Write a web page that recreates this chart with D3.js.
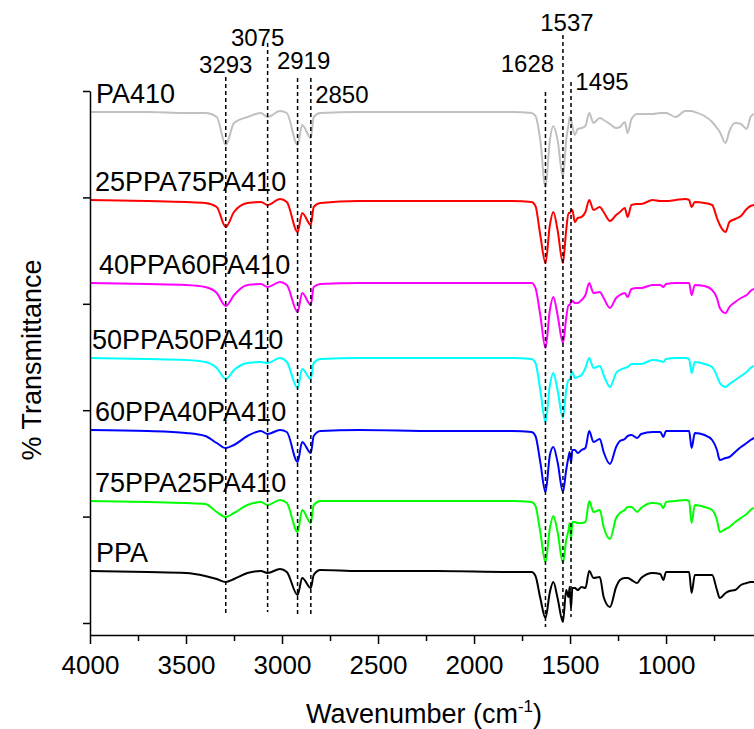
<!DOCTYPE html>
<html>
<head>
<meta charset="utf-8">
<script src="https://cdn.jsdelivr.net/npm/d3@7"></script>
<style>
  body { margin: 0; background: #fff; }
  text { font-family: Arial, "Liberation Sans", sans-serif; fill: #000; }
</style>
</head>
<body>
<svg id="main"></svg>
<script>
// wavenumber grid (cm-1), shared by all spectra
var wavenumbers = [
  4000, 3700, 3500, 3400, 3340, 3293, 3250, 3180, 3110, 3075,
  3010, 2975, 2919, 2895, 2850, 2835, 2800, 2600, 2200, 1800,
  1700, 1680, 1655, 1628, 1605, 1587, 1565, 1537, 1520, 1508,
  1502, 1495, 1488, 1475, 1460, 1440, 1420, 1400, 1378, 1345,
  1325, 1292, 1260, 1240, 1215, 1200, 1180, 1150, 1130, 1070,
  1030, 1014, 1000, 950, 900, 880, 867, 850, 800, 760,
  735, 720, 690, 670, 640, 610, 580, 560, 542
];

// stacked transmittance (offset, arbitrary units)
var pa410 = [
  51.1, 51.1, 51.0, 51.0, 50.6, 47.8, 50.0, 50.6, 51.0, 50.6,
  51.2, 51.0, 47.8, 49.8, 48.5, 50.6, 51.0, 51.1, 51.1, 51.1,
  51.0, 50.7, 48.3, 43.6, 48.3, 49.7, 48.3, 44.6, 48.3, 49.8,
  50.6, 50.4, 49.7, 48.8, 49.4, 49.5, 49.7, 51.0, 50.0, 50.5,
  50.3, 49.9, 49.5, 49.6, 50.1, 49.0, 50.4, 50.9, 50.9, 50.9,
  51.0, 51.0, 51.0, 50.6, 51.2, 51.2, 51.2, 51.1, 50.7, 50.1,
  49.5, 49.1, 48.0, 49.2, 50.0, 49.9, 49.4, 50.6, 50.9
];
var ppa25 = [
  42.3, 42.2, 42.1, 42.0, 41.6, 39.6, 41.1, 42.0, 42.1, 41.8,
  42.4, 42.1, 39.1, 41.0, 39.8, 41.6, 42.0, 42.2, 42.2, 42.2,
  42.1, 41.7, 38.8, 36.0, 39.8, 41.1, 39.3, 36.0, 39.3, 41.0,
  41.0, 41.2, 41.3, 40.1, 40.5, 40.6, 41.1, 42.3, 41.3, 41.6,
  41.1, 40.2, 40.8, 41.1, 41.5, 40.6, 41.8, 41.9, 41.9, 42.3,
  42.2, 42.2, 42.2, 42.3, 42.4, 42.3, 41.6, 42.1, 42.0, 41.8,
  40.5, 39.8, 39.1, 40.1, 40.4, 40.7, 41.4, 41.7, 41.8
];
var ppa40 = [
  34.0, 33.9, 33.8, 33.6, 33.0, 31.7, 32.8, 33.8, 33.9, 33.6,
  34.1, 33.8, 31.1, 33.0, 31.8, 33.6, 33.9, 34.0, 34.0, 34.0,
  34.0, 33.5, 30.8, 27.5, 31.3, 32.6, 30.8, 28.0, 30.5, 31.8,
  31.8, 32.1, 32.2, 32.0, 32.0, 32.3, 32.8, 34.0, 33.0, 33.1,
  32.5, 31.5, 32.5, 32.8, 33.0, 32.6, 33.4, 33.5, 33.5, 33.8,
  33.8, 33.6, 33.9, 34.0, 34.0, 34.0, 32.8, 33.8, 33.7, 33.3,
  32.5, 31.5, 31.0, 31.6, 32.1, 32.5, 32.8, 33.2, 33.4
];
var ppa50 = [
  26.5, 26.4, 26.3, 26.1, 25.5, 24.4, 25.3, 26.0, 26.1, 26.0,
  26.5, 26.1, 23.5, 25.4, 24.4, 26.0, 26.4, 26.5, 26.5, 26.5,
  26.4, 26.0, 23.3, 20.1, 23.8, 25.0, 23.3, 20.5, 23.3, 24.3,
  24.3, 24.8, 25.1, 24.5, 24.6, 24.8, 25.5, 26.5, 25.5, 25.7,
  24.8, 23.6, 25.0, 25.3, 25.5, 25.6, 25.9, 25.9, 25.9, 26.3,
  26.2, 26.1, 26.4, 26.5, 26.5, 26.4, 25.0, 26.1, 25.9, 25.6,
  24.7, 24.0, 23.6, 23.9, 24.3, 24.7, 25.1, 25.5, 25.7
];
var ppa60 = [
  19.3, 19.2, 19.0, 18.7, 18.0, 17.5, 17.8, 18.7, 19.2, 18.9,
  19.3, 19.1, 16.1, 18.1, 17.0, 18.7, 19.2, 19.3, 19.2, 19.2,
  19.1, 18.7, 16.1, 13.1, 16.8, 17.6, 16.1, 13.1, 15.3, 16.6,
  17.1, 16.0, 17.3, 17.3, 17.0, 17.3, 17.5, 19.2, 18.1, 18.4,
  17.1, 15.9, 17.6, 18.2, 18.4, 18.7, 18.8, 18.5, 18.9, 19.1,
  19.1, 18.6, 19.2, 19.2, 19.2, 19.2, 17.5, 19.0, 18.8, 18.3,
  17.3, 16.3, 16.5, 16.6, 17.1, 17.6, 18.0, 18.3, 18.5
];
var ppa75 = [
  12.2, 12.1, 12.0, 11.9, 11.1, 10.6, 11.0, 11.8, 12.1, 11.8,
  12.3, 12.0, 9.1, 11.3, 10.0, 11.8, 12.2, 12.2, 12.2, 12.2,
  12.1, 11.7, 9.1, 6.1, 9.5, 10.7, 9.1, 6.0, 8.3, 9.3,
  10.0, 8.3, 10.1, 10.1, 10.0, 10.0, 10.1, 12.2, 11.1, 11.3,
  9.6, 8.4, 10.5, 11.0, 11.3, 11.6, 11.6, 11.1, 11.5, 12.0,
  11.9, 11.5, 12.1, 12.2, 12.3, 12.2, 10.0, 11.8, 11.6, 11.3,
  10.3, 9.1, 9.4, 9.6, 10.1, 10.5, 10.9, 11.3, 11.5
];
var ppa = [
  5.2, 5.1, 5.0, 4.7, 4.4, 4.1, 4.4, 5.0, 5.2, 5.0,
  5.4, 5.1, 2.8, 4.5, 3.5, 4.8, 5.3, 5.2, 5.2, 5.1,
  5.1, 4.7, 2.5, 0.5, 3.1, 4.1, 2.5, 0.1, 3.3, 2.6,
  3.6, 1.5, 3.5, 3.5, 3.3, 3.6, 3.5, 5.2, 4.5, 4.6,
  2.6, 1.6, 3.6, 4.3, 4.5, 4.5, 4.3, 4.0, 4.5, 5.0,
  4.9, 4.3, 5.1, 5.1, 5.1, 5.1, 3.0, 4.8, 4.8, 4.8,
  3.3, 2.5, 3.0, 3.2, 3.3, 3.8, 4.0, 4.1, 4.1
];

var seriesNames = ["PA410", "25PPA75PA410", "40PPA60PA410", "50PPA50PA410", "60PPA40PA410", "75PPA25PA410", "PPA"];
var seriesValues = [pa410, ppa25, ppa40, ppa50, ppa60, ppa75, ppa];
var seriesColors = ["#c0c0c0", "#ff0000", "#ff00ff", "#00ffff", "#0000ff", "#00ff00", "#000000"];

// marked peaks and their dashed guide lines (top / bottom in y units)
var peaks = [3293, 3075, 2919, 2850, 1628, 1537, 1495];
var peakTop = [54.6, 58.0, 54.5, 54.5, 53.1, 58.8, 54.1];
var peakBottom = [1.0, 1.1, 0.9, 0.8, -0.4, 0.1, 0.6];
var peakLabelLevel = [55.0, 57.7, 55.4, 52.0, 55.1, 59.2, 53.3];

var xMajor = [4000, 3500, 3000, 2500, 2000, 1500, 1000];
var xMinor = [3750, 3250, 2750, 2250, 1750, 1250, 750];
var yTicks = [0, 10.64, 21.28, 31.92, 42.56, 53.2];

var w = 754;
var h = 729;
var padLeft = 90, padRight = 754, padTop = 91, padBottom = 635;

var svg = d3.select("#main")
  .attr("width", w)
  .attr("height", h);

var xScale = d3.scaleLinear()
  .domain([4000, 542])
  .range([padLeft, padRight]);

var yScale = d3.scaleLinear()
  .domain([-1.2, 53.2])
  .range([padBottom, padTop]);

var line = d3.line()
  .x(function(d, i) { return xScale(wavenumbers[i]); })
  .y(function(d) { return yScale(d); })
  .curve(d3.curveMonotoneX);

// spectra
seriesValues.forEach(function(vals, i) {
  svg.append("path")
    .datum(vals)
    .attr("d", line)
    .attr("fill", "none")
    .attr("stroke", seriesColors[i])
    .attr("stroke-width", 2)
    .attr("stroke-linejoin", "round");
});

// series labels, just above each baseline
var labelDx = [6, 5, 9, 2, 5, 5, 6];
seriesNames.forEach(function(name, i) {
  svg.append("text")
    .attr("x", padLeft + labelDx[i])
    .attr("y", yScale(seriesValues[i][0]) - 9)
    .style("font-size", "27px")
    .text(name);
});

// dashed peak lines
svg.selectAll(".peak")
  .data(peaks)
  .enter()
  .append("line")
  .attr("class", "peak")
  .attr("x1", function(d) { return xScale(d); })
  .attr("x2", function(d) { return xScale(d); })
  .attr("y1", function(d, i) { return yScale(peakTop[i]); })
  .attr("y2", function(d, i) { return yScale(peakBottom[i]); })
  .attr("stroke", "#000")
  .attr("stroke-width", 1.5)
  .attr("stroke-dasharray", "4,3");

var peakDx = [0, -10, 6, 31, -18, 4, 31];
svg.selectAll(".peaklabel")
  .data(peaks)
  .enter()
  .append("text")
  .attr("class", "peaklabel")
  .attr("x", function(d, i) { return xScale(d) + peakDx[i]; })
  .attr("y", function(d, i) { return yScale(peakLabelLevel[i]); })
  .attr("text-anchor", "middle")
  .style("font-size", "24px")
  .text(function(d) { return d; });

// axes
var xAxis = d3.axisBottom(xScale)
  .tickValues(xMajor)
  .tickFormat(d3.format("d"))
  .tickSize(9)
  .tickSizeOuter(0);

var gx = svg.append("g")
  .attr("transform", "translate(0," + padBottom + ")")
  .call(xAxis);
gx.attr("font-size", null).attr("font-family", null);
gx.selectAll("text").attr("y", 21).style("font-size", "26px");
gx.selectAll("line, path").attr("stroke-width", 1.5);

var gxMinor = svg.append("g")
  .attr("transform", "translate(0," + padBottom + ")")
  .call(d3.axisBottom(xScale).tickValues(xMinor).tickSize(6).tickFormat(""));
gxMinor.select(".domain").remove();
gxMinor.selectAll("line").attr("stroke-width", 1.5);

var yAxis = d3.axisLeft(yScale)
  .tickValues(yTicks)
  .tickSize(7)
  .tickSizeOuter(0)
  .tickFormat("");

var gy = svg.append("g")
  .attr("transform", "translate(" + padLeft + ",0)")
  .call(yAxis);
gy.selectAll("line, path").attr("stroke-width", 1.5);

// axis titles
svg.append("text")
  .attr("transform", "translate(41,360) rotate(-90)")
  .attr("text-anchor", "middle")
  .style("font-size", "27px")
  .text("% Transmittance");

var xt = svg.append("text")
  .attr("x", 424)
  .attr("y", 723)
  .attr("text-anchor", "middle")
  .style("font-size", "27px");
xt.append("tspan").text("Wavenumber (cm");
xt.append("tspan").attr("dy", -11).style("font-size", "17px").text("-1");
xt.append("tspan").attr("dy", 11).text(")");
</script>
</body>
</html>
